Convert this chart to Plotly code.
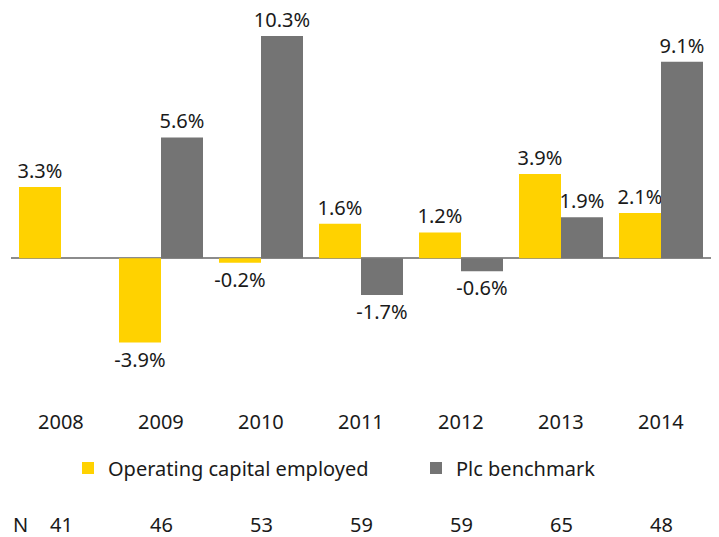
import plotly.graph_objects as go

years = ["2008", "2009", "2010", "2011", "2012", "2013", "2014"]
operating = [3.3, -3.9, -0.2, 1.6, 1.2, 3.9, 2.1]
plc = [None, 5.6, 10.3, -1.7, -0.6, 1.9, 9.1]
n_values = ["41", "46", "53", "59", "59", "65", "48"]

YELLOW = "#FFD200"
GRAY = "#747474"
TXT = "#1a1a1a"
FONT = "Noto Sans"
FS = 20

def fmt(v):
    return "" if v is None else f"{v:.1f}%"

fig = go.Figure()
fig.add_trace(go.Bar(
    x=years, y=operating, name="Operating capital employed",
    marker=dict(color=YELLOW, line=dict(width=0)),
    text=[fmt(v) for v in operating], textposition="outside",
    textfont=dict(family=FONT, size=FS, color=TXT),
    constraintext="none", cliponaxis=False, hoverinfo="skip",
    legend="legend",
))
fig.add_trace(go.Bar(
    x=years, y=plc, name="Plc benchmark",
    marker=dict(color=GRAY, line=dict(width=0)),
    text=[fmt(v) for v in plc], textposition="outside",
    textfont=dict(family=FONT, size=FS, color=TXT),
    constraintext="none", cliponaxis=False, hoverinfo="skip",
    legend="legend2",
))

# plot area on page: x 11..711, y 10..400
H = 390.0
def py(p):
    return (400 - p) / H
def px(p):
    return (p - 11) / 700.0

annotations = []
for i, yr in enumerate(years):
    annotations.append(dict(x=i, xref="x", y=py(421), yref="paper", text=yr,
                            showarrow=False, yanchor="middle", xanchor="center",
                            font=dict(family=FONT, size=FS, color=TXT)))
for i, n in enumerate(n_values):
    annotations.append(dict(x=i, xref="x", y=py(524), yref="paper", text=n,
                            showarrow=False, yanchor="middle", xanchor="center",
                            font=dict(family=FONT, size=FS, color=TXT)))
annotations.append(dict(x=px(20), xref="paper", y=py(524), yref="paper", text="N",
                        showarrow=False, yanchor="middle", xanchor="center",
                        font=dict(family=FONT, size=FS, color=TXT)))

leg_common = dict(orientation="h", xanchor="left", yanchor="middle", y=py(468),
                  font=dict(family=FONT, size=FS, color=TXT),
                  bgcolor="rgba(0,0,0,0)")

fig.update_layout(
    width=719, height=537,
    margin=dict(l=11, r=8, t=10, b=137, autoexpand=False),
    paper_bgcolor="white", plot_bgcolor="white",
    barmode="group", bargap=0.16, bargroupgap=0,
    showlegend=True,
    legend=dict(x=px(68), **leg_common),
    legend2=dict(x=px(416), **leg_common),
    xaxis=dict(type="category", range=[-0.5, 6.5], showticklabels=False,
               showgrid=False, zeroline=False, showline=False, ticks=""),
    yaxis=dict(range=[-6.56, 11.50], showticklabels=False, showgrid=False,
               zeroline=True, zerolinecolor="#8c8c8c", zerolinewidth=2,
               showline=False, ticks=""),
    annotations=annotations,
    font=dict(family=FONT, size=FS, color=TXT),
)

fig.write_html("out.html",
               config={"displayModeBar": False},
               post_script="document.body.style.margin='0';document.body.style.overflow='hidden';")
